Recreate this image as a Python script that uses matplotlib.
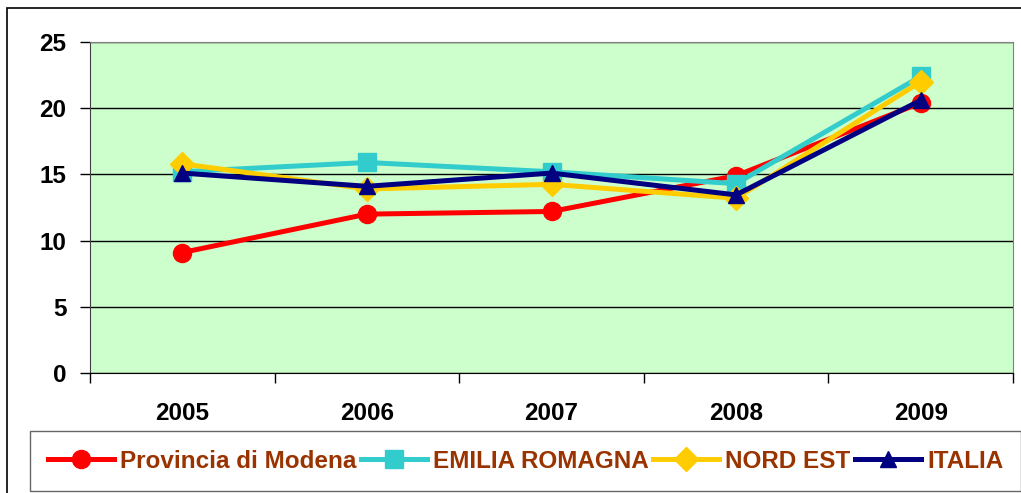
import matplotlib.pyplot as plt
from matplotlib.patches import Rectangle

years = ["2005", "2006", "2007", "2008", "2009"]
modena = [9.1, 12.0, 12.2, 14.9, 20.4]
emilia = [15.2, 15.9, 15.2, 14.3, 22.4]
nordest = [15.8, 13.9, 14.25, 13.2, 22.0]
italia = [15.1, 14.1, 15.1, 13.45, 20.6]

plt.rcParams['font.family'] = ['Liberation Sans', 'DejaVu Sans']

W, H = 1021, 493
fig = plt.figure(figsize=(W / 100, H / 100), dpi=100)

# outer chart frame
fig.patches.append(Rectangle((7 / W, -0.05), 1.1, 1 - 8 / H + 0.05,
                             transform=fig.transFigure, fill=False,
                             edgecolor='black', linewidth=1.2))

ax = fig.add_axes([90 / W, 1 - 373 / H, (1013 - 90) / W, (373 - 42) / H])
ax.set_facecolor('#CCFFCC')

x = range(len(years))
lw = 3.6
ax.plot(x, modena, color='#FF0000', linewidth=lw, marker='o', markersize=13,
        label='Provincia di Modena', zorder=3)
ax.plot(x, emilia, color='#33CCCC', linewidth=lw, marker='s', markersize=13,
        label='EMILIA ROMAGNA', zorder=4)
ax.plot(x, nordest, color='#FFCC00', linewidth=lw, marker='D', markersize=12,
        label='NORD EST', zorder=5)
ax.plot(x, italia, color='#000080', linewidth=lw, marker='^', markersize=12,
        label='ITALIA', zorder=6)

ax.set_xlim(-0.5, 4.5)
ax.set_ylim(0, 25)
ax.set_yticks([0, 5, 10, 15, 20, 25])
ax.yaxis.grid(True, color='black', linewidth=1)
ax.set_axisbelow(True)

ax.set_xticks(list(x))
ax.set_xticklabels(years)
ax.set_xticks([i - 0.5 for i in range(len(years) + 1)], minor=True)
ax.tick_params(axis='x', which='major', length=0, pad=21)
ax.tick_params(axis='x', which='minor', length=7, direction='out', width=1)
ax.tick_params(axis='y', length=7, direction='out', width=1, pad=10)
for lab in ax.get_xticklabels() + ax.get_yticklabels():
    lab.set_fontweight('bold')
    lab.set_fontsize(17.5)

ax.spines['top'].set_color('#808080')
ax.spines['right'].set_color('#808080')
ax.spines['left'].set_color('#404040')
ax.spines['bottom'].set_color('black')

leg = fig.legend(loc='center left', bbox_to_anchor=(30 / W, 1 - 461 / H),
                 ncol=4, frameon=True, fancybox=False, handlelength=2.7,
                 handletextpad=0.25, columnspacing=0.2, borderpad=0.75,
                 borderaxespad=0, prop={'weight': 'bold', 'size': 17.5})
leg.get_frame().set_edgecolor('#404040')
leg.get_frame().set_linewidth(1)
for t in leg.get_texts():
    t.set_color('#993300')

fig.savefig('out.png', dpi=100)
